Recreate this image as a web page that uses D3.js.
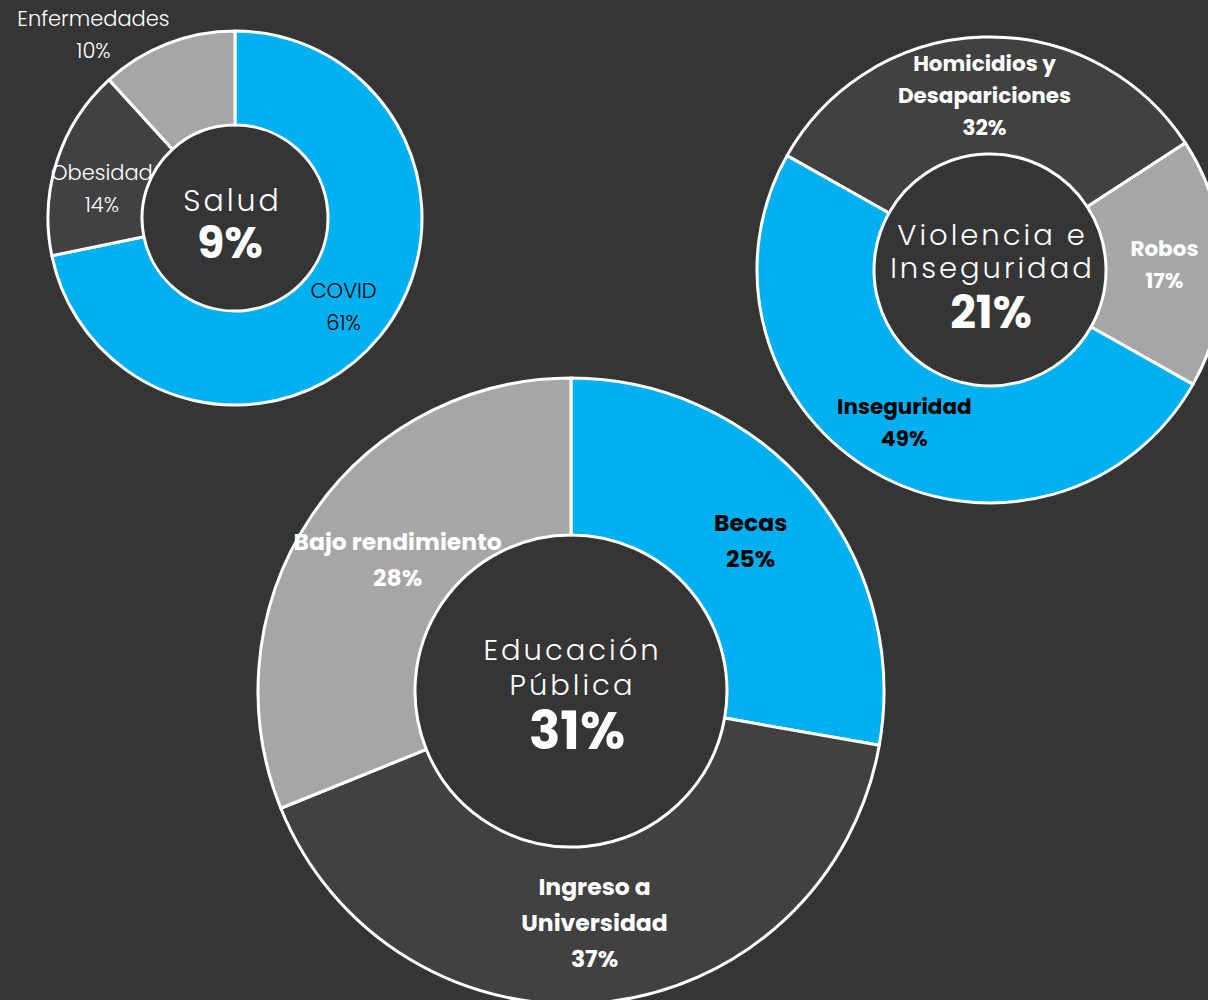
<!DOCTYPE html>
<html>
<head>
<meta charset="utf-8">
<script src="https://cdn.jsdelivr.net/npm/d3@7/dist/d3.min.js"></script>
<style>
  html, body { margin: 0; padding: 0; background: #353535; }
  svg { display: block; }
  text { font-family: Poppins, Inter, "Noto Sans", sans-serif; }
</style>
</head>
<body>
<svg id="chart" width="1208" height="1000"></svg>
<script>
// ---- data ----
const saludCategories = [["COVID"], ["Obesidad"], ["Enfermedades"]];
const saludValues = [61, 14, 10];
const saludTitle = ["Salud"];
const saludShare = "9%";

const violenciaCategories = [["Homicidios y", "Desapariciones"], ["Robos"], ["Inseguridad"]];
const violenciaValues = [32, 17, 49];
const violenciaTitle = ["Violencia e", "Inseguridad"];
const violenciaShare = "21%";

const educacionCategories = [["Becas"], ["Ingreso a", "Universidad"], ["Bajo rendimiento"]];
const educacionValues = [25, 37, 28];
const educacionTitle = ["Educación", "Pública"];
const educacionShare = "31%";

// ---- styling ----
const BG = "#353535";
const BLUE = "#00b0f0";
const DARK = "#414141";
const GRAY = "#a6a6a6";

const svg = d3.select("#chart");
svg.append("rect").attr("width", 1208).attr("height", 1000).attr("fill", BG);

function drawDonut(cfg) {
  const g = svg.append("g").attr("transform", `translate(${cfg.cx},${cfg.cy})`);
  const pie = d3.pie().sort(null).value(d => d)
    .startAngle(cfg.start).endAngle(cfg.start + 2 * Math.PI);
  const arcs = pie(cfg.values);
  const arc = d3.arc().innerRadius(cfg.inner).outerRadius(cfg.outer);
  const color = d3.scaleOrdinal().domain(d3.range(cfg.values.length)).range(cfg.colors);

  g.selectAll("path.slice").data(arcs).join("path")
    .attr("class", "slice")
    .attr("d", arc)
    .attr("fill", (d, i) => color(i))
    .attr("stroke", "#ffffff")
    .attr("stroke-width", 3)
    .attr("stroke-linejoin", "round");

  // slice labels: name lines followed by the percentage
  arcs.forEach((a, i) => {
    const lines = cfg.categories[i].concat([cfg.values[i] + "%"]);
    const [x, y] = arc.centroid(a);
    const off = cfg.labelShift[i];
    const bx = x + off[0], by = y + off[1];
    const n = lines.length;
    const t = g.append("text")
      .attr("text-anchor", "middle")
      .attr("fill", cfg.labelColors[i])
      .attr("font-size", cfg.labelSize)
      .attr("font-weight", cfg.labelWeight);
    lines.forEach((ln, k) => {
      t.append("tspan")
        .attr("x", bx)
        .attr("y", by + (k - (n - 1) / 2) * cfg.labelLine)
        .attr("dy", "0.35em")
        .text(ln);
    });
  });

  // centre title and share
  const title = g.append("text")
    .attr("text-anchor", "middle")
    .attr("fill", "#ffffff")
    .attr("font-size", cfg.titleSize)
    .attr("font-weight", 300)
    .attr("letter-spacing", cfg.spacing);
  cfg.title.forEach((ln, k) => {
    title.append("tspan")
      .attr("x", cfg.spacing / 2 + cfg.titleDx)
      .attr("y", cfg.titleY[k])
      .attr("dy", "0.35em")
      .text(ln);
  });
  g.append("text")
    .attr("text-anchor", "middle")
    .attr("x", cfg.shareDx)
    .attr("y", cfg.shareY)
    .attr("dy", "0.35em")
    .attr("fill", "#ffffff")
    .attr("font-size", cfg.shareSize)
    .attr("font-weight", 700)
    .text(cfg.share);
}

drawDonut({
  cx: 235, cy: 218, outer: 187, inner: 93,
  start: 0,
  values: saludValues, categories: saludCategories,
  colors: [BLUE, DARK, GRAY],
  labelColors: ["#000000", "#ffffff", "#ffffff"],
  labelSize: 21, labelWeight: 300, labelLine: 32,
  labelShift: [[0, 0], [0, 14], [-91, -53]],
  title: saludTitle, titleSize: 30, spacing: 3, titleDx: -4, titleY: [-18],
  share: saludShare, shareSize: 44, shareY: 25, shareDx: -5
});

drawDonut({
  cx: 990, cy: 270, outer: 233, inner: 116,
  start: -60.6 * Math.PI / 180,
  values: violenciaValues, categories: violenciaCategories,
  colors: [DARK, GRAY, BLUE],
  labelColors: ["#ffffff", "#ffffff", "#000000"],
  labelSize: 21.5, labelWeight: 700, labelLine: 32,
  labelShift: [[0, 0], [0, 0], [0, 0]],
  title: violenciaTitle, titleSize: 29, spacing: 3, titleDx: 1, titleY: [-35, -2],
  share: violenciaShare, shareSize: 45, shareY: 42, shareDx: 1
});

drawDonut({
  cx: 571, cy: 691, outer: 313, inner: 156,
  start: 0,
  values: educacionValues, categories: educacionCategories,
  colors: [BLUE, DARK, GRAY],
  labelColors: ["#000000", "#ffffff", "#ffffff"],
  labelSize: 23.5, labelWeight: 700, labelLine: 36,
  labelShift: [[0, 0], [-1, -1], [21, 0]],
  title: educacionTitle, titleSize: 29, spacing: 3, titleDx: 0, titleY: [-41, -6],
  share: educacionShare, shareSize: 52, shareY: 40, shareDx: 6
});
</script>
</body>
</html>
